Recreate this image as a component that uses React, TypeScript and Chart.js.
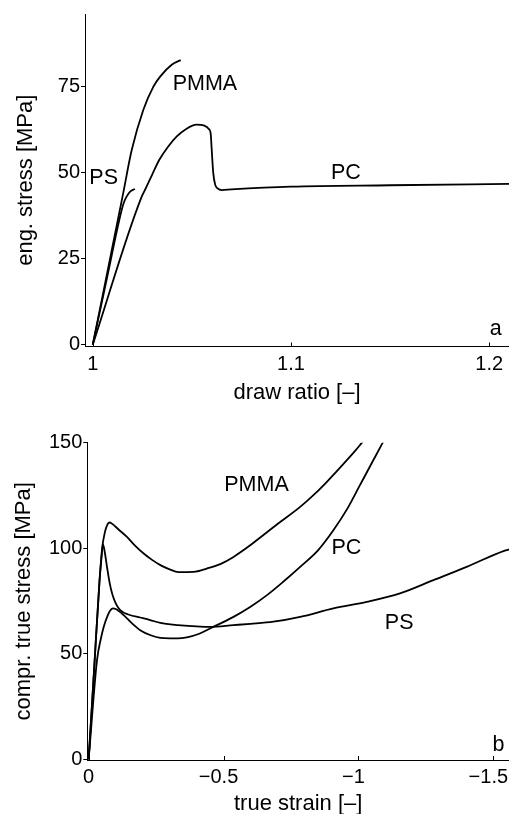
import React, { useEffect, useRef } from 'react';
import { Chart, registerables } from 'chart.js';

Chart.register(...registerables);

const FONT = '"Liberation Sans", Arial, Helvetica, sans-serif';
const TICK_SIZE = 20;
const TITLE_SIZE = 22;
const LABEL_SIZE = 21.5;

// ---- Panel a: tensile (draw ratio vs eng. stress) ----
const aPmmaX = [1, 1.005, 1.01, 1.015, 1.0197, 1.0255, 1.0306, 1.034, 1.04, 1.0444];
const aPmmaY = [0, 14.3, 28.7, 43.0, 56.7, 68.3, 75.1, 78.0, 81.5, 82.8];

const aPsX = [1, 1.007, 1.0138, 1.0155, 1.017, 1.019, 1.0213];
const aPsY = [0, 18.9, 37.3, 41.0, 43.0, 44.6, 45.3];

const aPcX = [1, 1.0247, 1.026, 1.03, 1.0336, 1.038, 1.0424, 1.047, 1.0524, 1.056, 1.0588, 1.0595, 1.06, 1.0608, 1.0618, 1.063, 1.065, 1.07, 1.1, 1.15, 1.21];
const aPcY = [0, 43.1, 44.6, 49.5, 53.8, 57.6, 60.6, 62.7, 64.0, 63.8, 62.6, 61.5, 57.0, 50.0, 46.5, 45.5, 45.0, 45.2, 46.0, 46.4, 46.8];

const aXTicks = [1, 1.1, 1.2];
const aXTickLabels = ['1', '1.1', '1.2'];
const aYTicks = [0, 25, 50, 75];
const aYTickLabels = ['0', '25', '50', '75'];

const aLabelText = ['PMMA', 'PS', 'PC', 'a'];
const aLabelX = [1.0566, 1.0055, 1.1277, 1.2033];
const aLabelY = [75.7, 48.5, 49.8, 4.6];

// ---- Panel b: compression (true strain vs true stress) ----
const bPmmaX = [0, -0.02, -0.04, -0.05, -0.06, -0.07, -0.078, -0.09, -0.11, -0.142, -0.17, -0.204, -0.235, -0.266, -0.3, -0.333, -0.389, -0.438, -0.488, -0.537, -0.6, -0.636, -0.7, -0.784, -0.84, -0.883, -0.92, -0.957, -0.99, -1.013, -1.03];
const bPmmaY = [0, 42, 84, 100, 107.5, 111.3, 112.2, 111.3, 109, 105.4, 101.5, 97.5, 94.5, 92, 90, 88.7, 88.8, 90.4, 92.5, 95.9, 101.5, 105.1, 111.5, 119.6, 126, 131.5, 136.5, 141.7, 146.5, 150, 152.5];

const bPsX = [0, -0.02, -0.04, -0.048, -0.053, -0.06, -0.068, -0.078, -0.087, -0.1, -0.117, -0.15, -0.191, -0.228, -0.266, -0.33, -0.414, -0.45, -0.537, -0.6, -0.685, -0.784, -0.907, -1.031, -1.154, -1.278, -1.401, -1.54, -1.56];
const bPsY = [0, 42, 84, 96, 102, 98, 91.2, 83.5, 78.6, 74, 70.7, 68.5, 67.2, 66, 64.6, 63.6, 62.9, 62.8, 63.6, 64.2, 65.2, 67.5, 71.5, 74.6, 78.6, 84.9, 91.2, 98.8, 99.5];

const bPcX = [0, -0.031, -0.045, -0.056, -0.07, -0.08, -0.09, -0.1, -0.13, -0.16, -0.191, -0.23, -0.266, -0.3, -0.33, -0.364, -0.41, -0.45, -0.537, -0.6, -0.661, -0.72, -0.784, -0.85, -0.907, -0.96, -1.006, -1.05, -1.09, -1.1];
const bPcY = [0, 47, 57, 62.8, 68, 70.5, 71.5, 71.2, 68.3, 64.5, 61.2, 58.8, 57.5, 57.3, 57.3, 57.8, 59.5, 62, 67.5, 72.3, 77.8, 84, 91.2, 99, 108.5, 119, 130, 140.5, 150, 152.5];

const bXTicks = [0, -0.5, -1, -1.5];
// trailing en space balances the leading minus so the number itself sits on the tick
const bXTickLabels = ['0', '\u22120.5\u2002', '\u22121\u2002', '\u22121.5\u2002'];
const bYTicks = [0, 50, 100, 150];
const bYTickLabels = ['0', '50', '100', '150'];

const bLabelText = ['PMMA', 'PC', 'PS', 'b'];
const bLabelX = [-0.622, -0.955, -1.151, -1.519];
const bLabelY = [129.9, 99.9, 64.4, 6.8];

function pts(xs: number[], ys: number[]) {
  return xs.map((x, i) => ({ x, y: ys[i] }));
}

function line(xs: number[], ys: number[]) {
  return {
    data: pts(xs, ys),
    showLine: true,
    borderColor: '#000',
    borderWidth: 1.8,
    pointRadius: 0,
    cubicInterpolationMode: 'monotone',
    fill: false,
  };
}

type PanelCfg = {
  width: number;
  height: number;
  padTop: number;
  yWidth: number;
  xHeight: number;
  series: { x: number[]; y: number[] }[];
  xMin: number;
  xMax: number;
  xReverse: boolean;
  yMin: number;
  yMax: number;
  xTicks: number[];
  xTickLabels: string[];
  yTicks: number[];
  yTickLabels: string[];
  xTitle: string;
  yTitle: string;
  yTitlePad: number;
  xTitlePad: number;
  xTickPad: number;
  labels: { text: string[]; x: number[]; y: number[] };
};

function makeConfig(p: PanelCfg): any {
  const labelPlugin = {
    id: 'panelLabels',
    afterDraw(chart: any) {
      const ctx = chart.ctx;
      const xs = chart.scales.x;
      const ys = chart.scales.y;
      const area = chart.chartArea;
      ctx.save();
      // inward ticks on x axis
      ctx.strokeStyle = '#000';
      ctx.lineWidth = 1;
      p.xTicks.forEach((v) => {
        const px = Math.round(xs.getPixelForValue(v)) + 0.5;
        ctx.beginPath();
        ctx.moveTo(px, area.bottom);
        ctx.lineTo(px, area.bottom - 4);
        ctx.stroke();
      });
      ctx.fillStyle = '#000';
      ctx.font = LABEL_SIZE + 'px ' + FONT;
      ctx.textAlign = 'center';
      ctx.textBaseline = 'middle';
      p.labels.text.forEach((t, i) => {
        ctx.fillText(t, xs.getPixelForValue(p.labels.x[i]), ys.getPixelForValue(p.labels.y[i]));
      });
      ctx.restore();
    },
  };

  return {
    type: 'scatter',
    data: { datasets: p.series.map((s) => line(s.x, s.y)) },
    options: {
      animation: false,
      responsive: false,
      maintainAspectRatio: false,
      layout: { padding: { top: p.padTop, left: 0, right: 0, bottom: 0 } },
      plugins: { legend: { display: false }, tooltip: { enabled: false } },
      scales: {
        x: {
          type: 'linear',
          min: p.xMin,
          max: p.xMax,
          reverse: p.xReverse,
          border: { display: true, color: '#000', width: 1 },
          grid: { display: false, drawTicks: false, tickLength: 0 },
          afterBuildTicks: (scale: any) => {
            scale.ticks = p.xTicks.map((v) => ({ value: v }));
          },
          afterFit: (scale: any) => {
            scale.height = p.xHeight;
            scale.paddingLeft = 0;
            scale.paddingRight = 0;
          },
          ticks: {
            color: '#000',
            font: { family: FONT, size: TICK_SIZE },
            padding: p.xTickPad,
            maxRotation: 0,
            autoSkip: false,
            callback: (v: number) => {
              const i = p.xTicks.findIndex((t) => Math.abs(t - v) < 1e-9);
              return i >= 0 ? p.xTickLabels[i] : '';
            },
          },
          title: {
            display: true,
            text: p.xTitle,
            color: '#000',
            font: { family: FONT, size: TITLE_SIZE },
            padding: { top: 0, bottom: p.xTitlePad },
          },
        },
        y: {
          type: 'linear',
          min: p.yMin,
          max: p.yMax,
          border: { display: true, color: '#000', width: 1 },
          grid: {
            display: true,
            drawOnChartArea: false,
            drawTicks: true,
            tickLength: 4,
            color: '#000',
            lineWidth: 1,
          },
          afterBuildTicks: (scale: any) => {
            scale.ticks = p.yTicks.map((v) => ({ value: v }));
          },
          afterFit: (scale: any) => {
            scale.width = p.yWidth;
            scale.paddingTop = 0;
            scale.paddingBottom = 0;
          },
          ticks: {
            color: '#000',
            font: { family: FONT, size: TICK_SIZE },
            padding: 1,
            autoSkip: false,
            callback: (v: number) => {
              const i = p.yTicks.findIndex((t) => Math.abs(t - v) < 1e-9);
              return i >= 0 ? p.yTickLabels[i] : '';
            },
          },
          title: {
            display: true,
            text: p.yTitle,
            color: '#000',
            font: { family: FONT, size: TITLE_SIZE },
            padding: { top: p.yTitlePad, bottom: 0 },
          },
        },
      },
    },
    plugins: [labelPlugin],
  };
}

function Panel({ cfg, top }: { cfg: PanelCfg; top: number }) {
  const ref = useRef<HTMLCanvasElement | null>(null);
  useEffect(() => {
    if (!ref.current) return;
    const chart = new Chart(ref.current, makeConfig(cfg));
    return () => chart.destroy();
  }, []);
  return (
    <canvas
      ref={ref}
      width={cfg.width}
      height={cfg.height}
      style={{ position: 'absolute', left: 0, top, width: cfg.width, height: cfg.height }}
    />
  );
}

const panelA: PanelCfg = {
  width: 509,
  height: 405,
  padTop: 14,
  yWidth: 85,
  xHeight: 405 - 346.5,
  series: [
    { x: aPmmaX, y: aPmmaY },
    { x: aPsX, y: aPsY },
    { x: aPcX, y: aPcY },
  ],
  xMin: 0.9961,
  xMax: 1.21,
  xReverse: false,
  yMin: -0.5,
  yMax: 96.2,
  xTicks: aXTicks,
  xTickLabels: aXTickLabels,
  yTicks: aYTicks,
  yTickLabels: aYTickLabels,
  xTitle: 'draw ratio [\u2013]',
  yTitle: 'eng. stress [MPa]',
  yTitlePad: 12.3,
  xTitlePad: -1.2,
  xTickPad: 6,
  labels: { text: aLabelText, x: aLabelX, y: aLabelY },
};

const panelB: PanelCfg = {
  width: 509,
  height: 409,
  padTop: 37.7,
  yWidth: 87.3,
  xHeight: 409 - 355,
  series: [
    { x: bPmmaX, y: bPmmaY },
    { x: bPsX, y: bPsY },
    { x: bPcX, y: bPcY },
  ],
  xMin: -1.558,
  xMax: 0.005,
  xReverse: true,
  yMin: -0.3,
  yMax: 150,
  xTicks: bXTicks,
  xTickLabels: bXTickLabels,
  yTicks: bYTicks,
  yTickLabels: bYTickLabels,
  xTitle: 'true strain [\u2013]',
  yTitle: 'compr. true stress [MPa]',
  yTitlePad: 10.3,
  xTitlePad: -2.7,
  xTickPad: 5,
  labels: { text: bLabelText, x: bLabelX, y: bLabelY },
};

export default function App() {
  return (
    <div style={{ position: 'absolute', left: 0, top: 0, width: 509, height: 814, background: '#fff' }}>
      <Panel cfg={panelA} top={0} />
      <Panel cfg={panelB} top={405} />
    </div>
  );
}
